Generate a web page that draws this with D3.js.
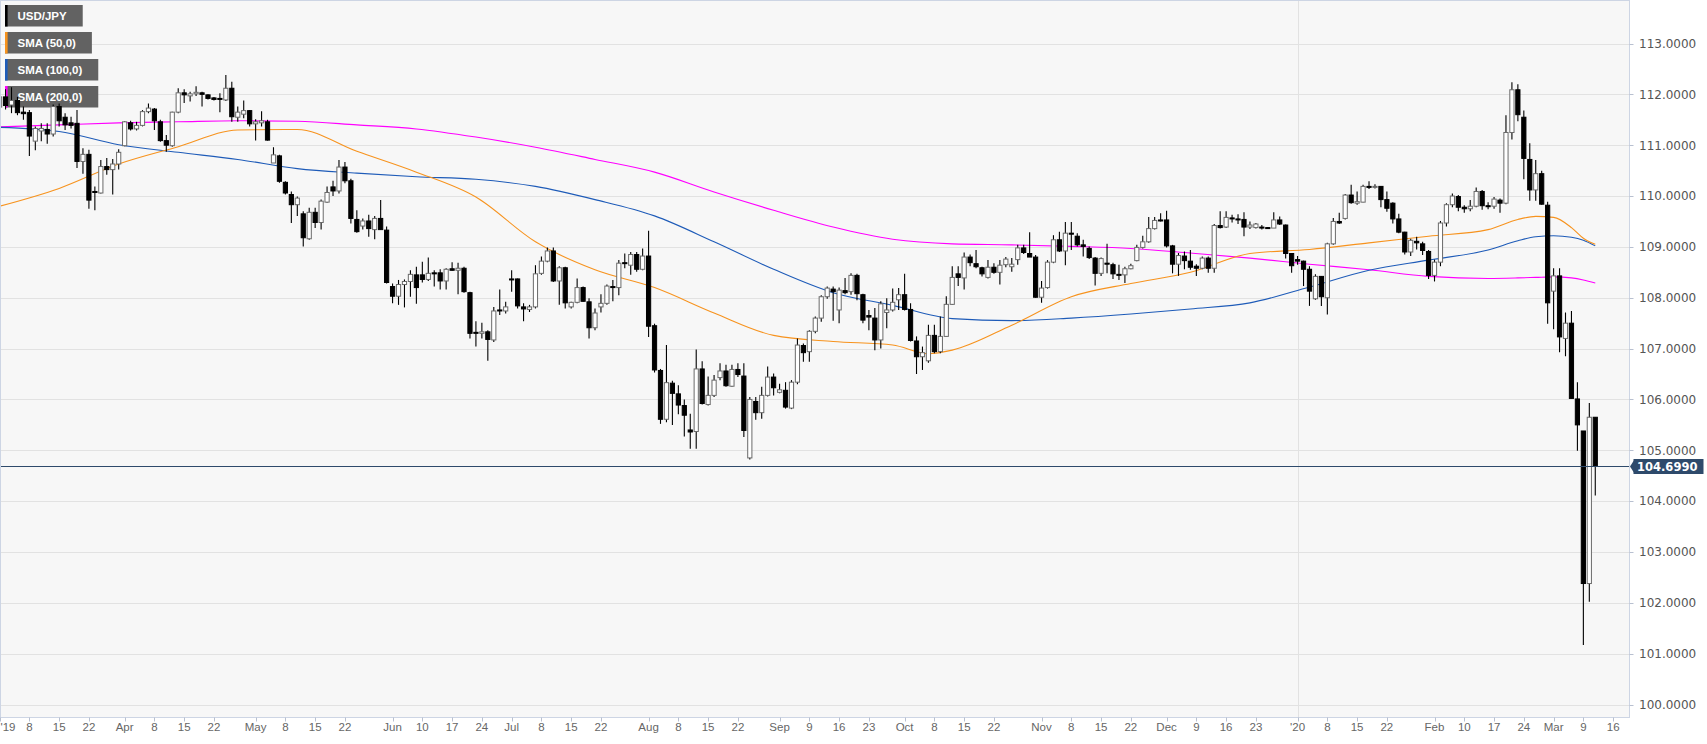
<!DOCTYPE html>
<html><head><meta charset="utf-8">
<script src="https://cdn.jsdelivr.net/npm/d3@7"></script>
<style>html,body{margin:0;padding:0;background:#fff;}svg{display:block;}</style>
</head><body>
<svg id="chart" width="1707" height="744"></svg>
<script>
// ---------- DATA (USD/JPY daily, 1 Mar 2019 .. 11 Mar 2020, weekdays) ----------
const opens = [111.75,111.95,111.79,111.88,111.65,111.64,111.08,111.28,111.31,111.22,111.76,111.55,111.44,111.43,110.68,110.82,110.09,110.06,110.58,110.52,110.63,110.99,111.44,111.32,111.39,111.66,111.71,111.46,111.09,110.99,111.65,112.03,111.97,112.01,112.03,111.99,111.93,111.92,111.89,112.12,111.55,111.61,111.68,111.42,111.44,111.46,110.65,110.79,110.27,110.03,109.83,109.65,109.16,109.68,109.48,109.88,110.18,110.10,110.57,110.30,109.54,109.41,109.51,109.34,109.56,109.33,108.22,108.03,108.26,108.32,108.45,108.45,108.36,108.49,108.49,108.33,108.57,108.54,108.58,108.10,107.32,107.30,107.33,107.17,107.76,107.74,108.37,108.37,107.82,107.77,107.82,108.48,108.72,108.92,108.33,108.59,107.82,107.91,108.20,107.92,107.41,107.82,107.89,108.22,108.20,108.69,108.64,108.85,108.56,108.82,107.45,106.57,105.61,106.32,106.11,105.88,105.40,105.37,106.60,105.90,106.08,106.43,106.56,106.26,106.59,106.46,104.85,105.96,105.74,106.08,106.44,106.14,106.18,105.83,106.34,107.06,106.94,107.34,107.60,108.02,108.17,107.76,108.14,108.12,108.44,108.06,107.65,107.60,107.17,107.71,107.76,107.96,108.06,107.77,107.15,106.84,106.76,107.26,106.94,107.24,107.87,108.47,108.39,108.80,108.67,108.59,108.40,108.60,108.50,108.65,108.61,108.75,108.98,108.87,108.80,108.01,108.20,108.70,109.14,108.92,109.27,109.21,109.04,108.97,108.78,108.48,108.68,108.65,108.46,108.45,108.57,108.73,108.99,109.10,109.36,109.53,109.53,109.02,108.66,108.82,108.72,108.62,108.58,108.78,108.58,109.42,109.39,109.57,109.55,109.54,109.39,109.38,109.39,109.38,109.37,109.53,109.43,108.87,108.75,108.72,108.56,107.98,108.42,108.00,109.06,109.50,109.56,110.02,109.86,109.88,110.19,110.18,110.19,109.93,109.86,109.55,109.29,108.90,109.11,109.06,108.91,108.44,108.70,109.47,109.83,109.99,109.78,109.75,109.80,110.09,109.81,109.80,109.92,109.86,111.25,112.09,111.55,110.72,110.12,110.44,109.82,108.13,108.43,107.20,107.50,106.01,105.38,102.38,105.65];
const highs = [112.08,112.10,112.14,111.95,111.76,111.69,111.37,111.43,111.43,111.80,111.82,111.63,111.56,111.69,110.94,110.91,110.19,110.71,110.75,110.73,110.92,111.47,111.48,111.46,111.69,111.82,111.73,111.50,111.20,111.66,112.12,112.10,112.05,112.16,112.05,112.00,111.95,112.02,112.38,112.25,111.76,111.88,111.69,111.51,111.67,111.50,110.96,110.81,110.29,110.09,109.99,109.70,109.77,109.77,109.93,110.19,110.30,110.71,110.67,110.34,109.72,109.56,109.63,109.61,109.92,109.40,108.28,108.35,108.36,108.54,108.61,108.71,108.79,108.54,108.56,108.58,108.70,108.69,108.61,108.12,107.54,107.51,107.36,107.82,108.16,107.92,108.54,108.38,107.89,107.86,108.64,108.81,108.99,108.99,108.62,108.61,107.92,108.38,108.22,107.99,107.79,108.07,108.26,108.35,108.74,108.87,108.90,108.90,108.97,109.32,107.49,106.60,107.07,106.37,106.28,106.00,105.72,106.98,106.75,106.45,106.48,106.71,106.68,106.68,106.71,106.71,106.05,106.05,106.25,106.65,106.51,106.31,106.34,106.38,107.20,107.10,107.36,107.63,108.05,108.22,108.22,108.20,108.39,108.48,108.47,108.08,107.76,107.80,107.93,107.99,108.18,108.19,108.47,107.89,107.24,107.04,107.47,107.47,107.63,108.03,108.62,108.62,108.89,108.85,108.94,108.61,108.74,108.68,108.74,108.80,108.78,109.04,109.04,109.29,108.84,108.33,108.74,109.23,109.30,109.49,109.49,109.27,109.14,109.01,108.80,108.79,109.06,108.69,108.65,108.61,108.67,109.04,109.22,109.59,109.59,109.66,109.71,109.04,108.88,108.91,108.94,108.66,108.81,108.81,109.45,109.70,109.70,109.63,109.64,109.68,109.50,109.47,109.43,109.39,109.68,109.60,109.44,108.88,108.82,108.73,108.62,108.46,108.43,109.08,109.57,109.67,110.04,110.22,110.09,110.22,110.29,110.23,110.20,110.09,109.88,109.65,109.30,109.16,109.20,109.10,108.94,108.75,109.51,109.86,110.05,110.02,109.82,109.92,110.17,110.12,109.88,109.98,109.95,111.59,112.24,112.20,111.68,111.04,110.71,110.50,109.89,108.58,108.58,107.71,107.74,106.34,105.38,105.93,105.65];
const lows = [111.40,111.70,111.63,111.59,111.50,110.79,110.90,111.08,111.03,111.17,111.37,111.30,111.33,110.55,110.44,109.75,109.72,110.05,110.42,110.03,110.52,110.98,111.29,111.29,111.37,111.63,111.30,111.07,110.87,110.97,111.63,111.83,111.86,111.97,111.76,111.90,111.88,111.65,111.87,111.46,111.46,111.53,111.37,111.09,111.37,111.09,110.65,110.26,110.03,109.47,109.61,109.01,109.14,109.37,109.34,109.87,110.00,110.05,110.25,109.46,109.28,109.34,109.20,109.15,109.33,108.28,107.89,107.86,107.81,108.02,107.88,108.30,108.33,108.22,108.16,108.16,108.53,108.07,108.10,107.20,107.04,107.20,106.76,107.13,107.66,107.69,108.12,107.79,107.54,107.72,107.79,108.45,108.70,108.31,107.86,107.79,107.79,107.89,107.92,107.20,107.36,107.71,107.86,107.93,108.05,108.58,108.45,108.51,108.54,107.23,106.53,105.52,105.55,105.50,105.71,105.27,105.03,105.03,105.90,105.88,106.05,106.38,106.25,106.25,106.44,105.26,104.82,105.60,105.62,106.06,106.08,106.12,105.82,105.81,106.30,106.74,106.74,107.30,107.53,107.98,107.55,107.50,108.07,108.06,107.95,107.50,107.36,106.97,107.00,107.40,107.73,107.76,107.75,107.14,106.50,106.58,106.72,106.91,106.91,107.24,107.86,108.23,108.16,108.62,108.58,108.42,108.38,108.47,108.26,108.60,108.51,108.65,108.86,108.80,108.00,107.90,108.18,108.68,108.90,108.64,108.94,109.01,108.81,108.76,108.24,108.43,108.48,108.37,108.35,108.29,108.56,108.72,108.97,109.08,109.34,109.50,108.99,108.48,108.43,108.56,108.55,108.43,108.56,108.49,108.49,109.36,109.37,109.48,109.45,109.21,109.35,109.36,109.34,109.36,109.37,109.43,108.77,108.49,108.65,108.23,107.84,107.96,107.84,107.67,109.04,109.45,109.54,109.85,109.83,109.88,110.14,110.15,109.78,109.69,109.46,109.27,108.85,108.82,108.95,108.84,108.37,108.32,108.62,109.40,109.78,109.70,109.67,109.70,109.78,109.73,109.74,109.75,109.67,109.84,111.11,111.47,110.33,109.91,109.91,109.83,107.49,107.38,106.93,106.85,106.02,104.99,101.17,102.02,104.11];
const closes = [111.95,111.78,111.88,111.64,111.62,111.18,111.33,111.33,111.22,111.76,111.48,111.40,111.39,110.68,110.82,109.92,110.07,110.58,110.52,110.63,110.86,111.46,111.32,111.39,111.66,111.73,111.48,111.09,111.00,111.65,112.03,111.99,112.01,112.04,112.00,111.92,111.90,111.91,112.12,111.56,111.65,111.68,111.42,111.46,111.48,111.10,110.81,110.29,110.06,109.83,109.96,109.18,109.68,109.48,109.90,110.07,110.10,110.57,110.30,109.56,109.30,109.51,109.36,109.56,109.34,108.30,108.03,108.26,108.32,108.46,108.20,108.36,108.48,108.47,108.33,108.56,108.54,108.58,108.12,107.30,107.30,107.33,107.18,107.74,107.74,107.82,108.36,107.84,107.78,107.82,108.47,108.72,108.92,108.33,108.59,107.90,107.91,108.20,107.93,107.41,107.70,107.89,108.23,108.20,108.68,108.68,108.85,108.56,108.82,107.44,106.58,105.61,106.33,106.12,105.89,105.69,105.36,106.60,105.92,106.08,106.38,106.56,106.27,106.59,106.49,105.39,106.00,105.74,106.08,106.44,106.23,106.19,105.85,106.34,107.07,106.92,107.34,107.60,108.02,108.19,108.12,108.15,108.10,108.44,108.08,107.56,107.62,107.17,107.88,107.76,107.91,108.06,107.77,107.16,106.84,106.92,107.26,106.94,107.24,107.87,108.40,108.40,108.80,108.69,108.61,108.47,108.60,108.50,108.64,108.76,108.66,108.98,108.89,108.80,108.01,108.19,108.70,109.14,108.92,109.27,109.25,109.04,109.01,108.79,108.48,108.77,108.66,108.47,108.45,108.57,108.63,108.99,109.10,109.36,109.52,109.51,109.02,108.66,108.83,108.73,108.60,108.58,108.78,108.58,109.42,109.38,109.58,109.55,109.53,109.39,109.43,109.45,109.38,109.37,109.53,109.45,108.87,108.63,108.72,108.56,108.13,108.42,108.02,109.06,109.50,109.47,110.02,109.87,109.89,110.19,110.17,110.19,109.93,109.76,109.55,109.29,108.90,109.13,109.08,108.93,108.44,108.70,109.47,109.83,110.00,109.78,109.75,109.80,110.09,109.81,109.80,109.94,109.86,111.25,112.09,111.60,110.74,110.12,110.44,109.84,107.90,108.43,107.23,107.50,106.02,105.50,102.38,105.65,104.699];

// Moving averages at these candle indices
const sma50Idx  = [0,10,20,30,40,50,60,70,80,90,100,110,120,130,140,150,156,160,170,180,190,200,210,220,230,240,250,255,258,261,264,266,268];
const sma50     = [109.80,110.15,110.63,110.97,111.30,111.31,110.88,110.47,109.98,109.10,108.55,108.20,107.70,107.26,107.14,107.07,106.90,106.97,107.46,108.02,108.28,108.50,108.87,108.95,109.08,109.21,109.34,109.54,109.60,109.58,109.38,109.17,109.05];
const sma100Idx = [0,10,20,30,40,50,60,70,80,90,100,110,120,130,140,150,160,170,180,190,200,210,220,230,240,250,255,258,261,264,266,268];
const sma100    = [111.35,111.27,111.01,110.86,110.72,110.54,110.45,110.38,110.33,110.19,109.93,109.61,109.10,108.56,108.10,107.85,107.59,107.55,107.60,107.68,107.78,107.90,108.21,108.54,108.74,108.94,109.12,109.20,109.22,109.19,109.13,109.02];
const sma200Idx = [0,10,20,30,40,50,60,70,80,90,100,110,120,130,140,150,160,170,180,190,200,210,220,230,240,250,255,258,261,264,266,268];
const sma200    = [111.36,111.40,111.44,111.46,111.48,111.47,111.40,111.32,111.16,110.96,110.72,110.47,110.08,109.72,109.39,109.15,109.06,109.04,109.01,108.97,108.88,108.78,108.66,108.55,108.42,108.38,108.39,108.40,108.41,108.39,108.35,108.29];

const yTicks = [100,101,102,103,104,105,106,107,108,109,110,111,112,113];
const lastPrice = 104.699;
const monthNames = ["Jan","Feb","Mar","Apr","May","Jun","Jul","Aug","Sep","Oct","Nov","Dec"];
const legendItems = [
  {label:"USD/JPY", color:"#000000"},
  {label:"SMA (50,0)", color:"#f7931e"},
  {label:"SMA (100,0)", color:"#1e5bb8"},
  {label:"SMA (200,0)", color:"#ff00ff"}
];

// ---------- LAYOUT ----------
const W = 1707, H = 744;
const plotR = 1629.5, plotB = 717.5;
const FONT = "'Liberation Sans', Arial, sans-serif";
const AXFONT = "'DejaVu Sans', Verdana, sans-serif";
const svg = d3.select("#chart");

// trading days (weekdays) starting 1 Mar 2019, extended past the data for the axis
const tradingDays = [];
for (let d = new Date(Date.UTC(2019,2,1)); tradingDays.length < 280; d = new Date(d.getTime()+86400000)) {
  const wd = d.getUTCDay();
  if (wd !== 0 && wd !== 6) tradingDays.push(d);
}
const x = d3.scaleLinear().domain([0, 274]).range([-0.4, -0.4 + 274*5.954]);
const y = d3.scaleLinear().domain([100, 113]).range([704.55, 43.5]);

// background
svg.append("rect").attr("x",0).attr("y",0).attr("width",W).attr("height",H).attr("fill","#ffffff");
svg.append("rect").attr("x",0.5).attr("y",0.5).attr("width",plotR-0.5).attr("height",plotB-0.5).attr("fill","#f7f7f7");

svg.append("defs").append("clipPath").attr("id","plotclip")
  .append("rect").attr("x",0).attr("y",0).attr("width",plotR).attr("height",plotB);

// horizontal grid
svg.append("g").selectAll("line").data(yTicks).join("line")
  .attr("x1",0).attr("x2",plotR).attr("y1",d=>Math.round(y(d))+0.5).attr("y2",d=>Math.round(y(d))+0.5)
  .attr("stroke","#e2e2e2").attr("stroke-width",1);

// x ticks: first trading day on/after day 1, 8, 15, 22 of each month
const xTicks = [];
for (let m = 0; m < 13; m++) {
  const yr = 2019 + Math.floor((2+m)/12), mo = (2+m)%12;
  for (const dd of [1,8,15,22]) {
    const target = Date.UTC(yr, mo, dd);
    const idx = tradingDays.findIndex(t => t.getTime() >= target);
    if (idx < 0 || idx > 273) continue;
    let label;
    if (dd === 1) label = (mo === 0 || xTicks.length === 0) ? "'" + String(yr).slice(2) : monthNames[mo];
    else label = String(tradingDays[idx].getUTCDate());
    xTicks.push({i: idx, label, yearStart: dd === 1 && mo === 0});
  }
}
// year separator line
svg.append("g").selectAll("line").data(xTicks.filter(t=>t.yearStart)).join("line")
  .attr("x1",d=>Math.round(x(d.i))+0.5).attr("x2",d=>Math.round(x(d.i))+0.5)
  .attr("y1",0).attr("y2",plotB).attr("stroke","#e2e2e2");

// legend boxes (under the marks)
const legend = svg.append("g");
legendItems.forEach((it, k) => {
  const g = legend.append("g").attr("transform", `translate(5,${5 + k*27})`);
  g.append("rect").attr("class","lbox").attr("x",0).attr("y",0).attr("height",21.5).attr("fill","#626262");
  g.append("rect").attr("x",0).attr("y",0).attr("width",2.6).attr("height",21.5).attr("fill",it.color);
});

const marks = svg.append("g").attr("clip-path","url(#plotclip)");

// SMA lines
const line = d3.line().x(d=>x(d[0])).y(d=>y(d[1])).curve(d3.curveMonotoneX);
[[sma200Idx,sma200,"#ff00ff"],[sma100Idx,sma100,"#1e5bb8"],[sma50Idx,sma50,"#f7931e"]].forEach(([ix,v,c])=>{
  marks.append("path").datum(ix.map((d,k)=>[d,v[k]])).attr("d",line)
    .attr("fill","none").attr("stroke",c).attr("stroke-width",1.1);
});

// candles
const candles = opens.map((o,i)=>({i, o, h:highs[i], l:lows[i], c:closes[i]}));
const bw = 4.2;
const cg = marks.append("g");
cg.selectAll("line.wick").data(candles).join("line").attr("class","wick")
  .attr("x1",d=>x(d.i)).attr("x2",d=>x(d.i)).attr("y1",d=>y(d.h)).attr("y2",d=>y(d.l))
  .attr("stroke","#000").attr("stroke-width",1.1);
cg.selectAll("rect.body").data(candles).join("rect").attr("class","body")
  .attr("x",d=>x(d.i)-bw/2).attr("width",bw)
  .attr("y",d=>y(Math.max(d.o,d.c)))
  .attr("height",d=>Math.max(1, Math.abs(y(d.o)-y(d.c))))
  .attr("fill",d=>d.c>=d.o?"#ffffff":"#000000")
  .attr("stroke",d=>d.c>=d.o?"#6a6a6a":"#000000").attr("stroke-width",1);

// current price line
const yp = Math.round(y(lastPrice))+0.5;
svg.append("line").attr("x1",0).attr("x2",plotR).attr("y1",yp).attr("y2",yp)
  .attr("stroke","#2e4a6b").attr("stroke-width",1);

// plot border
svg.append("rect").attr("x",0.5).attr("y",0.5).attr("width",plotR-0.5).attr("height",plotB-0.5)
  .attr("fill","none").attr("stroke","#cdd5e4").attr("stroke-width",1);

// legend texts (on top)
legendItems.forEach((it,k)=>{
  const t = legend.append("text").attr("x",17.5).attr("y",5 + k*27 + 15)
    .attr("font-family",FONT).attr("font-size",11.5).attr("font-weight","bold")
    .attr("fill","#ffffff").text(it.label);
  const w = t.node().getComputedTextLength();
  legend.selectAll("rect.lbox").filter((d,j)=>j===k).attr("width", 12.5 + w + 16);
});

// y axis
const ya = svg.append("g");
ya.selectAll("line").data(yTicks).join("line")
  .attr("x1",plotR).attr("x2",plotR+4).attr("y1",d=>Math.round(y(d))+0.5).attr("y2",d=>Math.round(y(d))+0.5)
  .attr("stroke","#b8c0d0");
ya.selectAll("text").data(yTicks).join("text")
  .attr("x",1639).attr("y",d=>y(d)+4.3)
  .attr("font-family",AXFONT).attr("font-size",12).attr("fill","#555")
  .text(d=>d.toFixed(4));

// current price tag
const tag = svg.append("g");
tag.append("path").attr("d",`M${plotR+0.5},${yp} L${plotR+5},${yp-7} L${plotR+5},${yp+7} Z`).attr("fill","#2e4a6b");
tag.append("rect").attr("x",plotR+4).attr("y",yp-7.5).attr("width",70).attr("height",15).attr("fill","#2e4a6b");
tag.append("text").attr("x",plotR+7.5).attr("y",yp+4.3).attr("font-family",AXFONT)
  .attr("font-size",11.5).attr("font-weight","bold").attr("fill","#fff").text(lastPrice.toFixed(4));

// x axis
const xa = svg.append("g");
xa.selectAll("line").data(xTicks).join("line")
  .attr("x1",d=>Math.round(x(d.i))+0.5).attr("x2",d=>Math.round(x(d.i))+0.5).attr("y1",plotB).attr("y2",plotB+4)
  .attr("stroke","#b8c0d0");
xa.selectAll("text").data(xTicks).join("text")
  .attr("x",(d,k)=> k===0 ? 0.5 : x(d.i)).attr("y",731)
  .attr("text-anchor",(d,k)=> k===0 ? "start" : "middle")
  .attr("font-family",FONT).attr("font-size",11.5).attr("fill","#666")
  .text(d=>d.label);
</script>
</body></html>
